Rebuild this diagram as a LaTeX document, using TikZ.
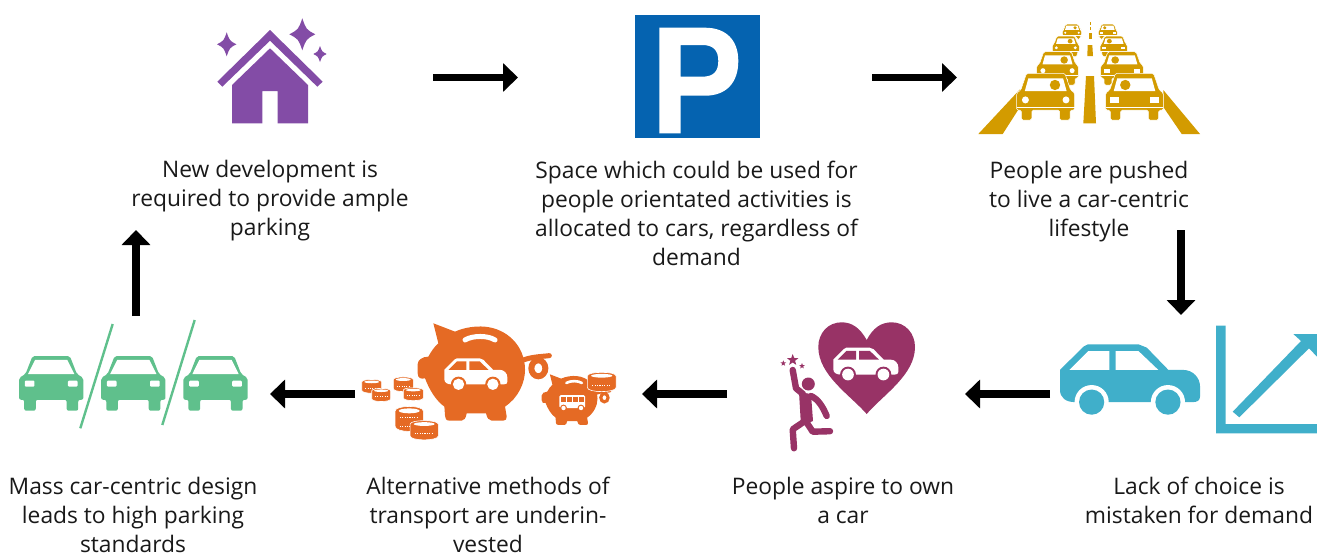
\documentclass[tikz,border=0pt]{standalone}
\usepackage{fontspec}
\setmainfont{Open Sans}
\usetikzlibrary{positioning}
\usetikzlibrary{shapes.geometric}
\usetikzlibrary{arrows.meta}
\definecolor{housepurple}{HTML}{834CA6}
\definecolor{signblue}{HTML}{0563B0}
\definecolor{roadgold}{HTML}{D39B00}
\definecolor{carteal}{HTML}{40AFCA}
\definecolor{heartplum}{HTML}{983366}
\definecolor{pigorange}{HTML}{E56A24}
\definecolor{lotgreen}{HTML}{5FC08C}
\tikzset{flow/.style={
		draw,
		line width=7.6pt,
		-{Triangle[length=15pt,width=28pt]},
	},
}
\tikzset{icon/.style={
		rectangle,
		inner sep = 0pt,
		outer sep = 0pt,
	},
}
\tikzset{caption/.style={
		align=center,
		inner sep = 0pt,
		outer sep = 0pt,
		text=black!90,
		font=\fontsize{22.8}{29}\selectfont,
	},
}
\tikzset{limb/.style={
		draw=heartplum,
		line width=6.4pt,
		line cap=round,
		line join=round,
	},
}
\tikzset{twinkle/.style={
		star,
		star points=5,
		star point ratio=2.4,
		fill=heartplum,
		inner sep=0pt,
	},
}
% side view, #1 #2 top left, #3 width
\newcommand{\sidecar}[5]{
	\begin{scope}[shift={(#1,#2)},x=#3pt,y=-#3pt]
		\fill[#4] (0,.183) -- (.167,.017) -- (.2,0) -- (.56,0) -- (.62,.024) -- (.774,.183) -- (.88,.183)
			.. controls (.95,.183) and (1,.24) .. (1,.30) -- (1,.374) .. controls (1,.40) and (.98,.413) .. (.95,.413)
			-- (.107,.413) .. controls (.04,.413) and (0,.38) .. (0,.326) -- cycle;
		\fill[#5] (.067,.183) -- (.202,.048) -- (.352,.048) -- (.352,.183) -- cycle;
		\fill[#5] (.398,.048) -- (.56,.048) -- (.702,.183) -- (.398,.183) -- cycle;
		\foreach \wx in {.226,.771} {
			\fill[#5] (\wx,.413) circle[radius=.122];
			\fill[#4] (\wx,.413) circle[radius=.09];
		}
	\end{scope}
}
% front view, #1 centre #2 top, #3 width #4 height
\newcommand{\greencar}[4]{
	\begin{scope}[shift={(#1,#2)},x=#3pt,y=-#4pt]
		\fill[lotgreen,rounded corners=2pt] (-.29,0) -- (.29,0) -- (.40,.33) -- (.5,.40) -- (.5,.80) -- (.42,.80) -- (.42,1) -- (.24,1)
			-- (.24,.80) -- (-.24,.80) -- (-.24,1) -- (-.42,1) -- (-.42,.80) -- (-.5,.80) -- (-.5,.40) -- (-.40,.33) -- cycle;
		\fill[white] (-.25,.07) -- (.25,.07) -- (.36,.33) -- (-.36,.33) -- cycle;
		\fill[white,rounded corners=1pt] (-.41,.45) rectangle (-.26,.56);
		\fill[white,rounded corners=1pt] (.26,.45) rectangle (.41,.56);
	\end{scope}
}
% #5 is 1 or -1, the side the driver sits on
\newcommand{\goldcar}[5]{
	\begin{scope}[shift={(#1,#2)},x=#5*#3pt,y=-#4pt]
		\draw[white,fill=roadgold,line width=.5pt,rounded corners=1.5pt] (-.33,0) -- (.33,0) -- (.43,.36) -- (.5,.42) -- (.5,.79) -- (.42,.79) -- (.42,1) -- (.24,1)
			-- (.24,.79) -- (-.24,.79) -- (-.24,1) -- (-.42,1) -- (-.42,.79) -- (-.5,.79) -- (-.5,.42) -- (-.43,.36) -- cycle;
		\fill[white] (-.3,.11) -- (.3,.11) -- (.36,.38) -- (-.36,.38) -- cycle;
		\fill[roadgold] (.16,.25) circle[x radius=.09,y radius=.11];
		\draw[white,line width=.4pt] (-.5,.72) -- (.5,.72);
		\ifnum#5=1
			\fill[white] (-.35,.57) circle[x radius=.06,y radius=.075];
			\fill[white] (.35,.57) circle[x radius=.06,y radius=.075];
		\else
			\fill[white] (-.43,.51) rectangle (-.27,.63);
			\fill[white] (.27,.51) rectangle (.43,.63);
		\fi
	\end{scope}
}
% #1 #2 top left of the pig, #3 size
\newcommand{\piggy}[3]{
	\begin{scope}[shift={(#1,#2)},x=#3pt,y=-#3pt]
		\draw[pigorange,line width=15*#3pt,line cap=round] (317,110) .. controls (345,100) and (370,100) .. (395,97);
		\draw[pigorange,line width=18*#3pt] (362,135) circle[x radius=21,y radius=24];
		\fill[pigorange] (47,0) -- (112,25) .. controls (140,12) and (175,8) .. (200,10) .. controls (265,15) and (322,65) .. (322,140)
			.. controls (322,180) and (300,225) .. (262,250) -- (267,280) .. controls (268,288) and (263,292) .. (257,292) -- (222,292)
			.. controls (214,292) and (208,285) .. (205,270) -- (147,270) .. controls (144,285) and (140,292) .. (132,292) -- (95,292)
			.. controls (85,292) and (82,285) .. (82,278) -- (80,250) .. controls (55,232) and (35,200) .. (22,165)
			.. controls (10,168) and (0,165) .. (0,150) -- (0,122) .. controls (0,110) and (15,100) .. (32,100)
			.. controls (40,85) and (50,70) .. (62,60) -- cycle;
		\draw[white,line width=15*#3pt,line cap=round] (142,50) .. controls (165,36) and (210,36) .. (232,50);
	\end{scope}
}
% #1 centre #2 top, #3 width #4 height, #5 rows of dots
\newcommand{\coinstack}[5]{
	\begin{scope}[shift={(#1,#2)},x=#3pt,y=-#4pt]
		\fill[pigorange,draw=white,line width=.6pt] (-.5,.25) .. controls (-.5,.02) and (.5,.02) .. (.5,.25) -- (.5,.8)
			.. controls (.5,1.06) and (-.5,1.06) .. (-.5,.8) -- cycle;
		\fill[white] (0,.24) circle[x radius=.37,y radius=.09];
		\foreach \ry in {#5} {
			\draw[white,line width=1pt,dash pattern=on 1.1pt off 1.3pt] (-.33,\ry) -- (.33,\ry);
		}
	\end{scope}
}
\newcommand{\sparkle}[4]{
	\fill[housepurple] (#1,#2-#4) .. controls (#1+.3*#3,#2-.3*#4) .. (#1+#3,#2) .. controls (#1+.3*#3,#2+.3*#4) .. (#1,#2+#4)
		.. controls (#1-.3*#3,#2+.3*#4) .. (#1-#3,#2) .. controls (#1-.3*#3,#2-.3*#4) .. cycle;
}

\begin{document}
\begin{tikzpicture}[x=1pt,y=-1pt,node distance = 1cm and 0.75cm]
\useasboundingbox (0,0) rectangle (1317,554);

% icon places
\node[icon, minimum width=106pt, minimum height=98pt] (house) at (270,77.5) {};
\node[icon, minimum width=125pt, minimum height=122pt] (sign) at (697.5,77.5) {};
\node[icon, minimum width=222pt, minimum height=115pt] (road) at (1089,77.5) {};
\node[icon, minimum width=257pt, minimum height=138pt] (demand) at (1188.5,394) {};
\node[icon, minimum width=132pt, minimum height=140pt] (aspire) at (849,394) {};
\node[icon, minimum width=254pt, minimum height=140pt] (piggies) at (489,394) {};
\node[icon, minimum width=229pt, minimum height=148pt] (lot) at (133.5,394) {};

% captions
\node[caption, below = 34pt of house] (capdev) {New development is\\required to provide ample\\parking};
\node[caption, below = 23pt of sign, xshift=-1pt] (capspace) {Space which could be used for\\people orientated activities is\\allocated to cars, regardless of\\demand};
\node[caption, below = 26pt of road] (cappush) {People are pushed\\to live a car-centric\\lifestyle};
\node[caption, anchor = north] (capchoice) at (1199,477) {Lack of choice is\\mistaken for demand};
\node[caption, anchor = north] (capown) at (843,477) {People aspire to own\\a car};
\node[caption, anchor = north] (capalt) at (488,477) {Alternative methods of\\transport are underin-\\vested};
\node[caption, anchor = north] (capmass) at (133,477) {Mass car-centric design\\leads to high parking\\standards};

% house
\fill[housepurple] (270,30) -- (322.7,81.7) -- (317.3,86.7) -- (270,40.7) -- (222.3,86.7) -- (217.3,81.7) -- cycle;
\fill[housepurple] (270,48.3) -- (308,85) -- (308,123.3) -- (277.7,123.3) -- (277.7,91) -- (262.3,91) -- (262.3,123.3) -- (232,123.3) -- (232,85) -- cycle;
\sparkle{302.3}{34.3}{13}{16}
\sparkle{226.7}{44.3}{9.7}{12}
\sparkle{320}{54}{6.7}{8}

% sign
\fill[signblue] (635,15) rectangle (760,137.7);
\fill[white,even odd rule] (659.3,27.7) -- (705,27.7) .. controls (726,27.7) and (738.3,40) .. (738.3,61) .. controls (738.3,83) and (726,95.7) .. (705,95.7) -- (680.7,95.7) -- (680.7,133.3) -- (659.3,133.3) -- cycle
	(680.7,45) -- (702,45) .. controls (713,45) and (718.3,50) .. (718.3,61) .. controls (718.3,72) and (713,76.7) .. (702,76.7) -- (680.7,76.7) -- cycle;

% road
\fill[roadgold] (978.3,134) -- (1020,89.3) -- (1020,107) -- (1002.7,134) -- cycle;
\fill[roadgold] (1200,134) -- (1163.3,90) -- (1163.3,107) -- (1181.7,134) -- cycle;
\fill[roadgold] (1086,76) -- (1094,76) -- (1096,123.3) -- (1083.3,123.3) -- cycle;
\fill[roadgold] (1087.7,45) -- (1092.3,45) -- (1093,56) -- (1087.3,56) -- cycle;
\fill[roadgold] (1089.3,33.3) -- (1091.7,33.3) -- (1091.7,39.3) -- (1089.3,39.3) -- cycle;
\fill[roadgold] (1089.9,27.3) rectangle (1091.3,30);
\fill[roadgold] (1090,21.7) rectangle (1091.2,25);
\goldcar{1072}{24}{19.3}{15.3}{1}
\goldcar{1107.8}{24}{19}{15.3}{-1}
\goldcar{1065.8}{36}{27}{20.7}{1}
\goldcar{1113.7}{36}{27.3}{20.7}{-1}
\goldcar{1057.5}{51.7}{41.7}{33.3}{1}
\goldcar{1122}{51.7}{42.7}{33.3}{-1}
\goldcar{1045.7}{73.3}{58}{46.7}{1}
\goldcar{1134.5}{73.3}{57.7}{46.7}{-1}

% car and chart
\sidecar{1060}{344.3}{140}{carteal}{white}
\fill[carteal] (1216,325.7) -- (1225.7,325.7) -- (1225.7,424) -- (1317,424) -- (1317,433.3) -- (1216,433.3) -- cycle;
\fill[carteal] (1232.7,411.7) -- (1301,341) -- (1293.3,334) -- (1317,334) -- (1317,356.7) -- (1309,348.3) -- (1239.3,417.3) -- cycle;

% heart and runner
\fill[heartplum] (866.7,340) .. controls (860,328) and (852,322.3) .. (841.7,322.3) .. controls (828,322.3) and (818.3,333) .. (818.3,347)
	.. controls (818.3,375) and (850,395) .. (866.7,414) .. controls (883,395) and (915,375) .. (915,347)
	.. controls (915,333) and (905,322.3) .. (891.7,322.3) .. controls (881,322.3) and (873,328) .. (866.7,340) -- cycle;
\sidecar{833.3}{347.7}{65}{white}{heartplum}
\fill[heartplum] (808.3,384) circle[radius=6.5];
\fill[heartplum] (799,392) -- (811,394) -- (813,421) -- (801,426) -- cycle;
\draw[limb] (792.7,370) -- (796,388.3) -- (803,394);
\draw[limb] (811,396) .. controls (818,399) and (823,407) .. (826.7,416);
\draw[limb] (804,421.7) -- (792.7,429.3) -- (794,448.3);
\draw[limb] (807,423) -- (812.7,431.7) -- (830,431.2);
\node[twinkle, minimum size=12pt] (bigstar) at (792.7,360) {};
\node[twinkle, minimum size=6pt] (leftstar) at (783.3,363.3) {};
\node[twinkle, minimum size=6pt] (rightstar) at (802,366) {};

% pigs and coins
\piggy{417.7}{323.3}{.3333}
\sidecar{444.3}{358.3}{63}{white}{pigorange}
\coinstack{371.7}{378.3}{20}{15}{.66}
\coinstack{381.2}{387.3}{19}{14.3}{.66}
\coinstack{403.3}{375.7}{20}{16}{.66}
\coinstack{413.3}{386.7}{20}{14}{.66}
\coinstack{409.2}{404.3}{28.3}{27.3}{.5,.8}
\coinstack{424.2}{419}{28.3}{21}{.7}
\piggy{541.7}{374.3}{.1733}
\fill[white,rounded corners=1.5pt] (559.3,395) rectangle (585,408);
\foreach \wx in {561.3,567.3,573.3,579.3} {
	\fill[pigorange] (\wx,397) rectangle (\wx+4.4,402);
}
\foreach \wx in {563.5,581} {
	\fill[pigorange] (\wx,408) circle[radius=3.4];
	\fill[white] (\wx,408) circle[radius=2.2];
}
\coinstack{601.7}{370.7}{28.7}{21}{.7}

% parking lot
\greencar{51.2}{356}{64.3}{54.7}
\greencar{133.3}{356}{64.3}{54.7}
\greencar{215.5}{356}{64.3}{54.7}
\draw[lotgreen,line width=2.4pt] (112.7,324) -- (80.3,428.3);
\draw[lotgreen,line width=2.4pt] (194.7,320) -- (162.3,425);

% the cycle
\draw[flow, shorten <=110pt, shorten >=117pt] (house.east) -- (sign.west);
\draw[flow, shorten <=112pt, shorten >=21pt] (sign.east) -- (road.west);
\draw[flow, shorten <=95pt, shorten >=10pt] ([xshift=92pt]road.south) -- ([xshift=92pt]road.south|-demand.north);
\draw[flow, shorten <=10pt, shorten >=50pt] (demand.west) -- (aspire.east);
\draw[flow, shorten <=56pt, shorten >=26pt] (aspire.west) -- (piggies.east);
\draw[flow, shorten <=7pt, shorten >=22pt] (piggies.west) -- (lot.east);
\draw[flow, shorten <=4pt, shorten >=103.5pt] ([xshift=2.5pt]lot.north) -- ([xshift=2.5pt]lot.north|-house.south);

\end{tikzpicture}
\end{document}
